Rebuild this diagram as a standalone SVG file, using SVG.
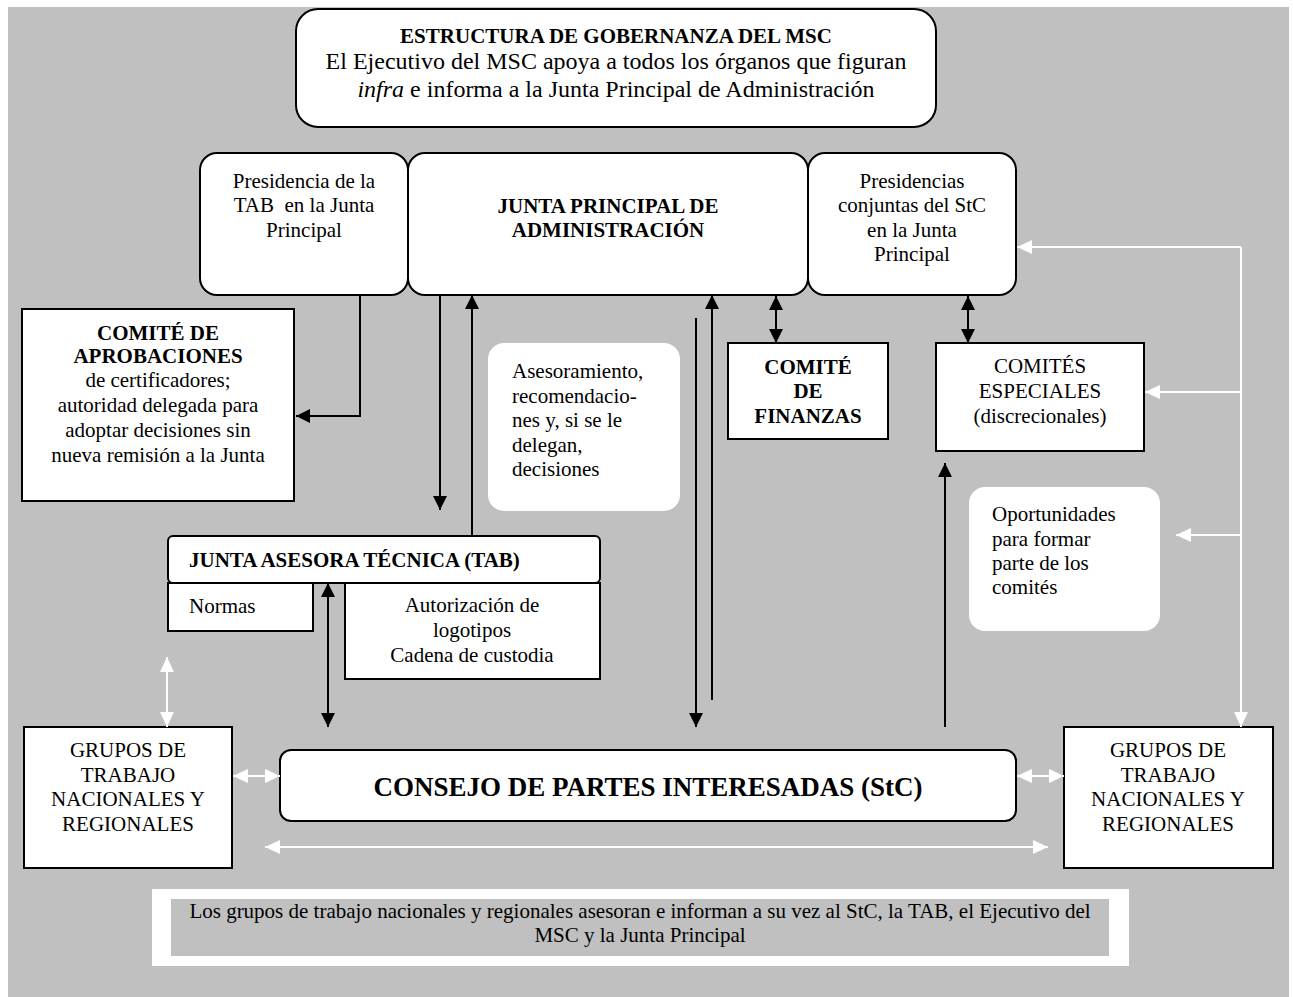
<svg xmlns="http://www.w3.org/2000/svg" width="1293" height="997" viewBox="0 0 1293 997">
<defs>
<style>
text{font-family:"Liberation Serif","Times New Roman",serif;fill:#000;}
.t21{font-size:21px;}
.b{font-weight:bold;}
.c{text-anchor:middle;}
.box{fill:#fff;stroke:#000;stroke-width:2;}
.soft{fill:#fff;stroke:none;}
.blk{stroke:#000;stroke-width:2;fill:none;}
.wht{stroke:#fff;stroke-width:2;fill:none;}
</style>
<marker id="ab" markerUnits="userSpaceOnUse" markerWidth="14" markerHeight="14" refX="14" refY="7" orient="auto-start-reverse" viewBox="0 0 14 14">
<path d="M0,0 L14,7 L0,14 z" fill="#000"/>
</marker>
<marker id="aw" markerUnits="userSpaceOnUse" markerWidth="15" markerHeight="14" refX="15" refY="7" orient="auto-start-reverse" viewBox="0 0 15 14">
<path d="M0,0 L15,7 L0,14 z" fill="#fff"/>
</marker>
</defs>
<rect x="0" y="0" width="1293" height="997" fill="#fff"/>
<rect x="8" y="7" width="1281" height="990" fill="#c0c0c0"/>

<g id="governance">
<rect class="box" x="296" y="9" width="640" height="118" rx="22"/>
<text class="c b" x="616" y="43" font-size="21">ESTRUCTURA DE GOBERNANZA DEL MSC</text>
<text class="c" x="616" y="69" font-size="24">El Ejecutivo del MSC apoya a todos los órganos que figuran</text>
<text class="c" x="616" y="97" font-size="24"><tspan font-style="italic">infra</tspan> e informa a la Junta Principal de Administración</text>
</g>

<g id="tab-chair">
<rect class="box" x="200" y="153" width="208" height="142" rx="17"/>
<text class="c t21" x="304" y="188">Presidencia de la</text>
<text class="c t21" x="304" y="212" xml:space="preserve">TAB  en la Junta</text>
<text class="c t21" x="304" y="237">Principal</text>
</g>

<g id="main-board">
<rect class="box" x="408" y="153" width="400" height="142" rx="17"/>
<text class="c t21 b" x="608" y="213">JUNTA PRINCIPAL DE</text>
<text class="c t21 b" x="608" y="237">ADMINISTRACIÓN</text>
</g>

<g id="stc-chairs">
<rect class="box" x="808" y="153" width="208" height="142" rx="17"/>
<text class="c t21" x="912" y="188">Presidencias</text>
<text class="c t21" x="912" y="212">conjuntas del StC</text>
<text class="c t21" x="912" y="237">en la Junta</text>
<text class="c t21" x="912" y="261">Principal</text>
</g>

<g id="approvals">
<rect class="box" x="22" y="309" width="272" height="192"/>
<text class="c t21 b" x="158" y="340">COMITÉ DE</text>
<text class="c t21 b" x="158" y="363">APROBACIONES</text>
<text class="c t21" x="158" y="387">de certificadores;</text>
<text class="c t21" x="158" y="412">autoridad delegada para</text>
<text class="c t21" x="158" y="437">adoptar decisiones sin</text>
<text class="c t21" x="158" y="462">nueva remisión a la Junta</text>
</g>

<g id="advice">
<rect class="soft" x="488" y="343" width="192" height="168" rx="16"/>
<text class="t21" x="512" y="378">Asesoramiento,</text>
<text class="t21" x="512" y="403">recomendacio-</text>
<text class="t21" x="512" y="427">nes y, si se le</text>
<text class="t21" x="512" y="452">delegan,</text>
<text class="t21" x="512" y="476">decisiones</text>
</g>

<g id="finance">
<rect class="box" x="728" y="343" width="160" height="96"/>
<text class="c t21 b" x="808" y="374">COMITÉ</text>
<text class="c t21 b" x="808" y="398">DE</text>
<text class="c t21 b" x="808" y="423">FINANZAS</text>
</g>

<g id="special">
<rect class="box" x="936" y="343" width="208" height="108"/>
<text class="c t21" x="1040" y="373">COMITÉS</text>
<text class="c t21" x="1040" y="398">ESPECIALES</text>
<text class="c t21" x="1040" y="423">(discrecionales)</text>
</g>

<g id="opportunities">
<rect class="soft" x="969" y="487" width="191" height="144" rx="16"/>
<text class="t21" x="992" y="521">Oportunidades</text>
<text class="t21" x="992" y="546">para formar</text>
<text class="t21" x="992" y="570">parte de los</text>
<text class="t21" x="992" y="594">comités</text>
</g>

<g id="tab">
<rect class="box" x="168" y="536" width="432" height="47" rx="5"/>
<text class="t21 b" x="189" y="567">JUNTA ASESORA TÉCNICA (TAB)</text>
</g>

<g id="standards">
<rect class="box" x="168" y="583" width="145" height="48"/>
<text class="t21" x="189" y="613">Normas</text>
</g>

<g id="logo">
<rect class="box" x="345" y="583" width="255" height="96"/>
<text class="c t21" x="472" y="612">Autorización de</text>
<text class="c t21" x="472" y="637">logotipos</text>
<text class="c t21" x="472" y="662">Cadena de custodia</text>
</g>

<g id="groups-left">
<rect class="box" x="24" y="727" width="208" height="141"/>
<text class="c t21" x="128" y="757">GRUPOS DE</text>
<text class="c t21" x="128" y="782">TRABAJO</text>
<text class="c t21" x="128" y="806">NACIONALES Y</text>
<text class="c t21" x="128" y="831">REGIONALES</text>
</g>

<g id="stc">
<rect class="box" x="280" y="750" width="736" height="71" rx="11"/>
<text class="c b" x="648" y="796" font-size="27">CONSEJO DE PARTES INTERESADAS (StC)</text>
</g>

<g id="groups-right">
<rect class="box" x="1064" y="727" width="209" height="141"/>
<text class="c t21" x="1168" y="757">GRUPOS DE</text>
<text class="c t21" x="1168" y="782">TRABAJO</text>
<text class="c t21" x="1168" y="806">NACIONALES Y</text>
<text class="c t21" x="1168" y="831">REGIONALES</text>
</g>

<g id="note">
<rect x="152" y="889" width="977" height="77" fill="#fff"/>
<rect x="171" y="899" width="938" height="57" fill="#c0c0c0"/>
<text class="c" x="640" y="918" font-size="21">Los grupos de trabajo nacionales y regionales asesoran e informan a su vez al StC, la TAB, el Ejecutivo del</text>
<text class="c" x="640" y="942" font-size="21">MSC y la Junta Principal</text>
</g>

<g id="connectors">
<polyline class="blk" points="360,295 360,416 296,416" marker-end="url(#ab)"/>
<line class="blk" x1="440" y1="295" x2="440" y2="510" marker-end="url(#ab)"/>
<line class="blk" x1="472" y1="536" x2="472" y2="295" marker-end="url(#ab)"/>
<line class="blk" x1="696" y1="318" x2="696" y2="727" marker-end="url(#ab)"/>
<line class="blk" x1="712" y1="700" x2="712" y2="295" marker-end="url(#ab)"/>
<line class="blk" x1="776" y1="296" x2="776" y2="343" marker-start="url(#ab)" marker-end="url(#ab)"/>
<line class="blk" x1="968" y1="296" x2="968" y2="343" marker-start="url(#ab)" marker-end="url(#ab)"/>
<line class="blk" x1="328" y1="583" x2="328" y2="727" marker-start="url(#ab)" marker-end="url(#ab)"/>
<line class="blk" x1="945" y1="727" x2="945" y2="463" marker-end="url(#ab)"/>
<line class="wht" x1="1241" y1="247" x2="1241" y2="727" marker-end="url(#aw)"/>
<line class="wht" x1="1241" y1="247" x2="1017" y2="247" marker-end="url(#aw)"/>
<line class="wht" x1="1241" y1="392" x2="1145" y2="392" marker-end="url(#aw)"/>
<line class="wht" x1="1241" y1="535" x2="1176" y2="535" marker-end="url(#aw)"/>
<line class="wht" x1="167" y1="657" x2="167" y2="727" marker-start="url(#aw)" marker-end="url(#aw)"/>
<line class="wht" x1="233" y1="776" x2="280" y2="776" marker-start="url(#aw)" marker-end="url(#aw)"/>
<line class="wht" x1="1017" y1="776" x2="1064" y2="776" marker-start="url(#aw)" marker-end="url(#aw)"/>
<line class="wht" x1="265" y1="847" x2="1048" y2="847" marker-start="url(#aw)" marker-end="url(#aw)"/>
</g>
</svg>
